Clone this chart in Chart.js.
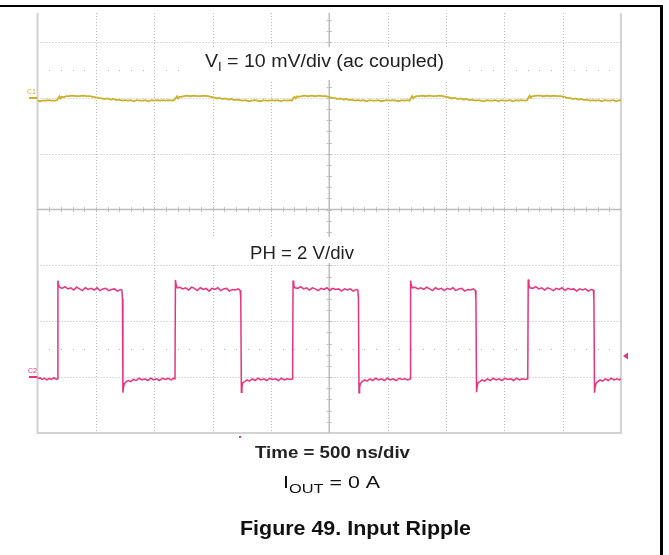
<!DOCTYPE html>
<html><head><meta charset="utf-8">
<script src="https://cdn.jsdelivr.net/npm/chart.js@4.4.1/dist/chart.umd.min.js"></script>
<style>html,body{margin:0;padding:0;background:#fff}#wrap{width:669px;height:555px;position:relative}</style>
</head><body><div id="wrap"><canvas id="c" width="669" height="555"></canvas></div>
<script>
// ---- axis definitions (time in ns, amplitude in screen divisions) ----
const xGridNs = [0,500,1000,1500,2000,2500,3000,3500,4000,4500,5000];
const yGridDiv = [-4,-3,-2,-1,0,1,2,3];
const xRangeNs = [0,5000];
const yRangeDiv = [-4,3.52];

// ---- PH switch node, 2 V/div (time ns, level div) ----
const phTrace = [
[0,-3.03],[20,-3.01],[40,-3.04],[60,-3.02],[80,-3.05],[100,-3.02],[120,-3.04],[140,-3.01],[160,-3.04],[171,-3.03],
[175,-1.27],[181,-1.35],[190,-1.39],
[210,-1.41],[235,-1.38],[260,-1.42],[285,-1.40],[310,-1.44],[335,-1.39],[360,-1.42],[385,-1.45],[410,-1.40],[435,-1.43],[460,-1.41],[485,-1.44],[510,-1.40],[535,-1.45],[560,-1.42],[585,-1.41],[610,-1.45],[635,-1.43],[660,-1.42],[685,-1.46],[710,-1.43],[723,-1.44],
[728,-1.60],[732,-3.28],[737,-3.18],[745,-3.11],[760,-3.08],[780,-3.06],[800,-3.08],[820,-3.04],[845,-3.06],[870,-3.02],[895,-3.05],[920,-3.03],[945,-3.06],[970,-3.02],[995,-3.05],[1020,-3.03],[1045,-3.06],[1070,-3.02],[1095,-3.04],[1120,-3.02],[1145,-3.05],[1165,-3.02],[1178,-3.03],
[1182,-1.26],[1188,-1.35],[1197,-1.40],
[1220,-1.39],[1245,-1.42],[1270,-1.40],[1295,-1.44],[1320,-1.39],[1345,-1.41],[1370,-1.45],[1395,-1.40],[1420,-1.43],[1445,-1.41],[1470,-1.46],[1495,-1.41],[1520,-1.43],[1545,-1.40],[1570,-1.45],[1595,-1.42],[1620,-1.41],[1645,-1.46],[1670,-1.43],[1695,-1.44],[1720,-1.42],[1737,-1.45],
[1742,-1.62],[1747,-3.27],[1752,-3.17],[1760,-3.10],[1775,-3.08],[1795,-3.05],[1815,-3.07],[1840,-3.03],[1865,-3.06],[1890,-3.02],[1915,-3.05],[1940,-3.03],[1965,-3.06],[1990,-3.02],[2015,-3.04],[2040,-3.03],[2065,-3.06],[2090,-3.02],[2115,-3.05],[2140,-3.03],[2165,-3.04],[2186,-3.03],
[2190,-1.27],[2196,-1.36],[2205,-1.40],
[2230,-1.41],[2255,-1.38],[2280,-1.42],[2305,-1.40],[2330,-1.44],[2355,-1.40],[2380,-1.42],[2405,-1.45],[2430,-1.41],[2455,-1.43],[2480,-1.40],[2505,-1.45],[2530,-1.41],[2555,-1.43],[2580,-1.42],[2605,-1.46],[2630,-1.42],[2655,-1.44],[2680,-1.42],[2705,-1.46],[2730,-1.43],[2745,-1.44],
[2750,-1.58],[2755,-3.28],[2760,-3.18],[2768,-3.11],[2783,-3.08],[2803,-3.05],[2823,-3.07],[2848,-3.03],[2873,-3.06],[2898,-3.02],[2923,-3.05],[2948,-3.03],[2973,-3.06],[2998,-3.02],[3023,-3.05],[3048,-3.03],[3073,-3.06],[3098,-3.02],[3123,-3.04],[3148,-3.03],[3173,-3.05],[3193,-3.03],
[3197,-1.27],[3203,-1.35],[3212,-1.40],
[3235,-1.39],[3260,-1.42],[3285,-1.40],[3310,-1.43],[3335,-1.39],[3360,-1.42],[3385,-1.45],[3410,-1.40],[3435,-1.43],[3460,-1.41],[3485,-1.45],[3510,-1.41],[3535,-1.43],[3560,-1.40],[3585,-1.45],[3610,-1.42],[3635,-1.41],[3660,-1.46],[3685,-1.43],[3710,-1.44],[3735,-1.42],[3752,-1.45],
[3757,-1.60],[3762,-3.27],[3767,-3.17],[3775,-3.10],[3790,-3.08],[3810,-3.05],[3830,-3.07],[3855,-3.03],[3880,-3.06],[3905,-3.02],[3930,-3.05],[3955,-3.03],[3980,-3.06],[4005,-3.02],[4030,-3.04],[4055,-3.03],[4080,-3.06],[4105,-3.02],[4130,-3.05],[4155,-3.03],[4180,-3.04],[4201,-3.03],
[4205,-1.25],[4211,-1.35],[4220,-1.40],
[4245,-1.41],[4270,-1.38],[4295,-1.42],[4320,-1.40],[4345,-1.44],[4370,-1.40],[4395,-1.42],[4420,-1.45],[4445,-1.41],[4470,-1.43],[4495,-1.40],[4520,-1.45],[4545,-1.41],[4570,-1.43],[4595,-1.42],[4620,-1.46],[4645,-1.42],[4670,-1.44],[4695,-1.42],[4720,-1.46],[4745,-1.43],[4763,-1.44],
[4768,-1.60],[4773,-3.28],[4778,-3.18],[4786,-3.11],[4801,-3.08],[4821,-3.05],[4841,-3.07],[4866,-3.03],[4891,-3.06],[4916,-3.02],[4941,-3.05],[4966,-3.03],[4985,-3.05],[5000,-3.03]
];

// ---- VI input ripple, 10 mV/div ac coupled (time ns, level div) ----
const viTrace = [
[0,1.95],[20,1.94],[45,1.95],[70,1.95],[95,1.96],[120,1.95],[150,1.95],[168,1.96],
[178,2.00],[188,2.03],[198,1.99],[210,2.02],[225,2.01],[245,2.03],[270,2.03],[300,2.04],[330,2.03],[360,2.03],[390,2.04],[420,2.03],[450,2.03],[475,2.02],[500,2.01],[525,2.00],[550,1.99],[575,1.98],[600,1.99],[625,1.97],[650,1.98],[675,1.96],[700,1.97],[725,1.95],[750,1.96],[775,1.95],[800,1.96],[825,1.94],[850,1.96],[875,1.95],[900,1.95],[925,1.96],[950,1.94],[975,1.96],[1000,1.95],[1025,1.96],[1050,1.95],[1075,1.96],[1100,1.95],[1125,1.96],[1150,1.95],[1170,1.96],
[1185,2.00],[1195,2.03],[1205,1.99],[1217,2.02],[1232,2.02],[1255,2.03],[1280,2.04],[1310,2.03],[1340,2.04],[1370,2.03],[1400,2.03],[1430,2.04],[1460,2.03],[1485,2.02],[1510,2.01],[1535,1.99],[1560,2.00],[1585,1.98],[1610,1.99],[1635,1.97],[1660,1.98],[1685,1.96],[1710,1.97],[1735,1.96],[1760,1.95],[1785,1.96],[1810,1.94],[1835,1.95],[1860,1.96],[1885,1.95],[1910,1.94],[1935,1.96],[1960,1.95],[1985,1.95],[2010,1.96],[2035,1.95],[2060,1.96],[2085,1.94],[2110,1.96],[2135,1.95],[2160,1.96],[2180,1.95],
[2193,2.00],[2203,2.02],[2213,1.99],[2225,2.03],[2240,2.02],[2265,2.03],[2290,2.04],[2320,2.03],[2350,2.04],[2380,2.03],[2410,2.04],[2440,2.03],[2470,2.03],[2495,2.02],[2520,2.00],[2545,2.00],[2570,1.98],[2595,1.99],[2620,1.97],[2645,1.98],[2670,1.96],[2695,1.97],[2720,1.95],[2745,1.96],[2770,1.95],[2795,1.96],[2820,1.94],[2845,1.96],[2870,1.95],[2895,1.95],[2920,1.96],[2945,1.94],[2970,1.95],[2995,1.96],[3020,1.95],[3045,1.96],[3070,1.95],[3095,1.94],[3120,1.96],[3145,1.95],[3170,1.96],[3188,1.95],
[3200,2.00],[3210,2.03],[3220,1.99],[3232,2.02],[3247,2.03],[3270,2.03],[3295,2.04],[3325,2.03],[3355,2.04],[3385,2.03],[3415,2.03],[3445,2.04],[3475,2.03],[3500,2.02],[3525,2.01],[3550,1.99],[3575,2.00],[3600,1.98],[3625,1.99],[3650,1.97],[3675,1.98],[3700,1.96],[3725,1.97],[3750,1.95],[3775,1.96],[3800,1.95],[3825,1.94],[3850,1.96],[3875,1.95],[3900,1.95],[3925,1.96],[3950,1.94],[3975,1.96],[4000,1.95],[4025,1.95],[4050,1.96],[4075,1.94],[4100,1.96],[4125,1.95],[4150,1.96],[4175,1.95],[4196,1.96],
[4208,2.01],[4218,2.04],[4228,2.00],[4240,2.03],[4255,2.03],[4280,2.04],[4305,2.04],[4335,2.03],[4365,2.04],[4395,2.03],[4425,2.04],[4455,2.03],[4485,2.03],[4510,2.02],[4535,2.00],[4560,2.00],[4585,1.98],[4610,1.99],[4635,1.97],[4660,1.98],[4685,1.96],[4710,1.97],[4735,1.95],[4760,1.96],[4785,1.95],[4810,1.96],[4835,1.94],[4860,1.96],[4885,1.95],[4910,1.95],[4935,1.96],[4960,1.94],[4985,1.96],[5000,1.95]
];

// channel reference levels (div), trigger level (div), trigger time (ns)
const ch1GroundDiv = 2.0;
const ch2GroundDiv = -3.0;
const triggerLevelDiv = -2.62;
const triggerTimeNs = 1738;
const markerRowsDiv = [2.5, -2.5];

const C1 = '#c8b22c', C2 = '#e6337e';
const FONT = '"Liberation Sans", Arial, Helvetica, sans-serif';

function drawParts(ctx, parts, left, width, baseline, color) {
  // parts: [text, fontSpec, dy]
  let nat = 0;
  parts.forEach(p => { ctx.font = p[1]; nat += ctx.measureText(p[0]).width; });
  const s = width / nat;
  ctx.save();
  ctx.fillStyle = color;
  ctx.textBaseline = 'alphabetic';
  ctx.translate(left, baseline);
  ctx.scale(s, 1);
  let x = 0;
  parts.forEach(p => { ctx.font = p[1]; ctx.fillText(p[0], x, p[2]); x += ctx.measureText(p[0]).width; });
  ctx.restore();
}

const scopePlugin = {
  id: 'scope',
  beforeDatasetsDraw(chart) {
    const ctx = chart.ctx, xs = chart.scales.x, ys = chart.scales.y, a = chart.chartArea;
    const r = v => Math.round(v) + 0.5;
    ctx.save();
    // dotted grid
    ctx.strokeStyle = '#b8b8b8'; ctx.lineWidth = 1; ctx.setLineDash([1, 2]);
    xGridNs.forEach(v => {
      if (v === xRangeNs[0] || v === xRangeNs[1] || v === 2500) return;
      const px = r(xs.getPixelForValue(v));
      ctx.beginPath(); ctx.moveTo(px, a.top); ctx.lineTo(px, a.bottom); ctx.stroke();
    });
    yGridDiv.forEach(v => {
      if (v === yRangeDiv[0] || v === 0) return;
      const py = r(ys.getPixelForValue(v));
      ctx.beginPath(); ctx.moveTo(a.left, py); ctx.lineTo(a.right, py); ctx.stroke();
    });
    ctx.setLineDash([]);
    // sparse marker rows (dots at minor positions)
    ctx.fillStyle = '#b0b0b0';
    markerRowsDiv.forEach(v => {
      const py = Math.round(ys.getPixelForValue(v));
      for (let t = 100; t < xRangeNs[1]; t += 100) {
        if (t % 500 === 0) continue;
        ctx.fillRect(Math.round(xs.getPixelForValue(t)), py, 1, 1);
      }
    });
    // borders (left, right, bottom)
    ctx.strokeStyle = '#d2d2d2'; ctx.lineWidth = 2;
    const L = xs.getPixelForValue(xRangeNs[0]), R = xs.getPixelForValue(xRangeNs[1]), B = ys.getPixelForValue(yRangeDiv[0]);
    ctx.beginPath(); ctx.moveTo(L, a.top); ctx.lineTo(L, B); ctx.lineTo(R, B); ctx.lineTo(R, a.top); ctx.stroke();
    // centre cross with minor ticks
    ctx.strokeStyle = '#bdbdbd'; ctx.lineWidth = 1.5;
    const cx = xs.getPixelForValue(2500), cy = ys.getPixelForValue(0);
    ctx.beginPath(); ctx.moveTo(cx, a.top); ctx.lineTo(cx, a.bottom); ctx.moveTo(a.left, cy); ctx.lineTo(a.right, cy); ctx.stroke();
    ctx.lineWidth = 1;
    ctx.beginPath();
    for (let t = 100; t < xRangeNs[1]; t += 100) {
      const px = r(xs.getPixelForValue(t));
      ctx.moveTo(px, cy - 2.5); ctx.lineTo(px, cy + 2.5);
    }
    for (let v = -3.8; v < yRangeDiv[1]; v += 0.2) {
      const py = r(ys.getPixelForValue(v));
      ctx.moveTo(cx - 2.5, py); ctx.lineTo(cx + 2.5, py);
    }
    ctx.stroke();
    // white label boxes
    ctx.fillStyle = '#ffffff';
    ctx.fillRect(188, 47, 280, 33);
    ctx.fillRect(195, 237, 185, 26);
    ctx.restore();
  },
  afterDatasetsDraw(chart) {
    const ctx = chart.ctx, xs = chart.scales.x, ys = chart.scales.y, a = chart.chartArea;
    ctx.save();
    // channel ground markers and labels
    const g1 = ys.getPixelForValue(ch1GroundDiv), g2 = ys.getPixelForValue(ch2GroundDiv);
    ctx.fillStyle = C1; ctx.fillRect(29, Math.round(g1) - 1, a.left - 29, 2);
    ctx.font = '7px ' + FONT; ctx.fillText('C1', 27, g1 - 4);
    ctx.fillStyle = C2; ctx.fillRect(29, Math.round(g2) - 1, a.left - 29, 2);
    ctx.fillText('C2', 28, g2 - 4);
    // trigger level arrow
    const ty = ys.getPixelForValue(triggerLevelDiv);
    ctx.beginPath(); ctx.moveTo(a.right + 2, ty); ctx.lineTo(a.right + 7, ty - 3.5); ctx.lineTo(a.right + 7, ty + 3.5); ctx.closePath(); ctx.fill();
    // trigger position marker
    const tx = xs.getPixelForValue(triggerTimeNs);
    ctx.fillRect(Math.round(tx) - 1, a.bottom + 3, 2, 2);
    // texts
    const reg = s => s + 'px ' + FONT, bold = s => 'bold ' + s + 'px ' + FONT;
    drawParts(ctx, [['V', reg(18), 0], ['I', reg(12), 4], [' = 10 mV/div (ac coupled)', reg(18), 0]], 205, 239, 67, '#222');
    drawParts(ctx, [['PH = 2 V/div', reg(18), 0]], 250, 104, 258.5, '#222');
    drawParts(ctx, [['Time = 500 ns/div', bold(17), 0]], 255, 155, 457.5, '#222');
    drawParts(ctx, [['I', reg(17), 0], ['OUT', reg(13), 5.5], [' = 0 A', reg(17), 0]], 283, 97, 487.5, '#111');
    drawParts(ctx, [['Figure 49. Input Ripple', bold(21), 0]], 240, 231, 535, '#111');
    // page frame
    ctx.fillStyle = '#000';
    ctx.fillRect(0, 5, 663, 2);
    ctx.fillRect(660, 5, 3, 550);
    ctx.restore();
  }
};

new Chart(document.getElementById('c'), {
  type: 'line',
  data: {
    datasets: [
      { label: 'VI', data: viTrace.map(p => ({x: p[0], y: p[1]})), borderColor: C1, borderWidth: 1.8, pointRadius: 0, tension: 0 },
      { label: 'PH', data: phTrace.map(p => ({x: p[0], y: p[1]})), borderColor: C2, borderWidth: 1.5, pointRadius: 0, tension: 0 }
    ]
  },
  options: {
    responsive: false, animation: false, devicePixelRatio: 1,
    layout: { padding: { left: 37.5, right: 48, top: 13, bottom: 122 } },
    plugins: { legend: { display: false }, tooltip: { enabled: false } },
    scales: {
      x: { type: 'linear', min: xRangeNs[0], max: xRangeNs[1], display: false },
      y: { type: 'linear', min: yRangeDiv[0], max: yRangeDiv[1], display: false }
    }
  },
  plugins: [scopePlugin]
});
</script></body></html>
